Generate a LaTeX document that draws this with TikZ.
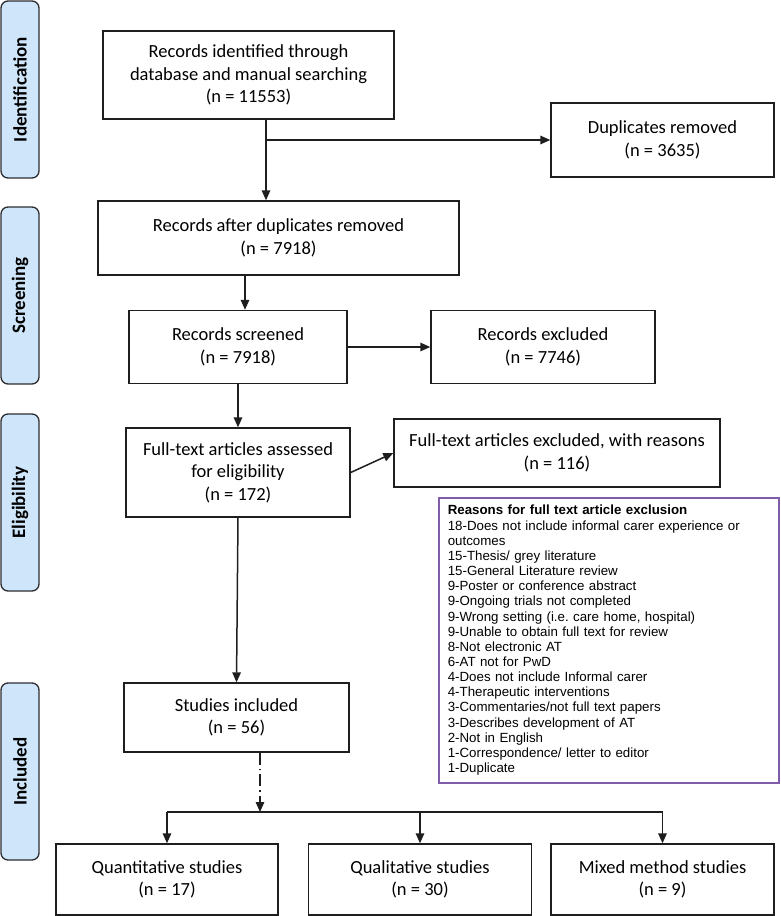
\documentclass[tikz,border=0pt]{standalone}
\usepackage{fontspec}
\setmainfont{Carlito}
\setsansfont{Liberation Sans}
\usetikzlibrary{arrows.meta}
\definecolor{lblblue}{RGB}{207,230,250}
\definecolor{lbledge}{RGB}{45,45,50}
\definecolor{purp}{RGB}{128,92,170}
\definecolor{edge}{RGB}{30,30,30}
\begin{document}
\begin{tikzpicture}[x=1pt,y=-1pt,
  phase/.style={draw=lbledge,fill=lblblue,line width=1.3pt,rounded corners=7pt,rotate=90,
    minimum width=177pt,minimum height=38pt,inner sep=0pt,font=\fontsize{19}{22}\selectfont\bfseries},
  box/.style={draw=edge,line width=1.4pt,inner sep=0pt,align=center,
    font=\fontsize{18.5}{22.5}\selectfont},
  arr/.style={line width=1.5pt,draw=edge,-{Triangle[length=10pt,width=8.5pt]}},
  ln/.style={line width=1.5pt,draw=edge}]
\useasboundingbox (0,0) rectangle (780,916);
% phase labels
\node[phase] (pid) at (20,89.5) {Identification};
\node[phase] (psc) at (20,295.5) {Screening};
\node[phase] (pel) at (20,502.5) {Eligibility};
\node[phase] (pin) at (20,771.5) {Included};
% boxes
\node[box,minimum width=291pt,minimum height=88pt] (rid) at (248.5,75)
  {Records identified through\\database and manual searching\\(n = 11553)};
\node[box,minimum width=223pt,minimum height=74pt] (dup) at (662.5,140)
  {Duplicates removed\\(n = 3635)};
\node[box,minimum width=361pt,minimum height=74pt] (rad) at (278.5,238)
  {Records after duplicates removed\\(n = 7918)};
\node[box,minimum width=218pt,minimum height=73pt] (rs) at (238,347)
  {Records screened\\(n = 7918)};
\node[box,minimum width=224pt,minimum height=73pt] (rex) at (543,347)
  {Records excluded\\(n = 7746)};
\node[box,minimum width=224pt,minimum height=89pt] (fta) at (238,472.5)
  {Full-text articles assessed\\for eligibility\\(n = 172)};
\node[box,minimum width=326pt,minimum height=68pt] (fte) at (557,453)
  {Full-text articles excluded, with reasons\\(n = 116)};
\node[draw=purp,line width=1.6pt,anchor=north west,text width=322pt,inner xsep=9pt,
  inner ysep=6.5pt,minimum height=285pt,align=left,
  font=\sffamily\fontsize{13.3}{15.15}\selectfont] (rsn) at (438,497)
  {\textbf{Reasons for full text article exclusion}\\
   18-Does not include informal carer experience or\\outcomes\\
   15-Thesis/ grey literature\\15-General Literature review\\
   9-Poster or conference abstract\\9-Ongoing trials not completed\\
   9-Wrong setting (i.e.\ care home, hospital)\\9-Unable to obtain full text for review\\
   8-Not electronic AT\\6-AT not for PwD\\4-Does not include Informal carer\\
   4-Therapeutic interventions\\3-Commentaries/not full text papers\\
   3-Describes development of AT\\2-Not in English\\
   1-Correspondence/ letter to editor\\1-Duplicate};
\node[box,minimum width=225pt,minimum height=69pt] (si) at (236.5,717.5)
  {Studies included\\(n = 56)};
\node[box,minimum width=222pt,minimum height=71pt] (qn) at (167,879.5)
  {Quantitative studies\\(n = 17)};
\node[box,minimum width=223pt,minimum height=71pt] (ql) at (420,879.5)
  {Qualitative studies\\(n = 30)};
\node[box,minimum width=223pt,minimum height=71pt] (mx) at (662.5,879.5)
  {Mixed method studies\\(n = 9)};
% connectors
\draw[arr] (rid.south -| 266,0) -- (rad.north -| 266,0);
\draw[arr] (dup.west -| 266,0) -- (dup.west);
\draw[arr] (rad.south -| 245,0) -- (rs.north -| 245,0);
\draw[arr] (rs.east) -- (rex.west);
\draw[arr] (rs.south) -- (fta.north);
\draw[arr] (fta.east) -- (fte.west);
\draw[arr] (fta.south) -- (si.north);
\coordinate (jn) at (260,812);
\draw[arr,dash pattern=on 12pt off 4pt on 1.5pt off 4pt] (si.south -| jn) -- (jn);
\draw[ln] (qn.north |- jn) -- (mx.north |- jn);
\draw[arr] (qn.north |- jn) -- (qn.north);
\draw[arr] (ql.north |- jn) -- (ql.north);
\draw[arr] (mx.north |- jn) -- (mx.north);
\end{tikzpicture}
\end{document}
